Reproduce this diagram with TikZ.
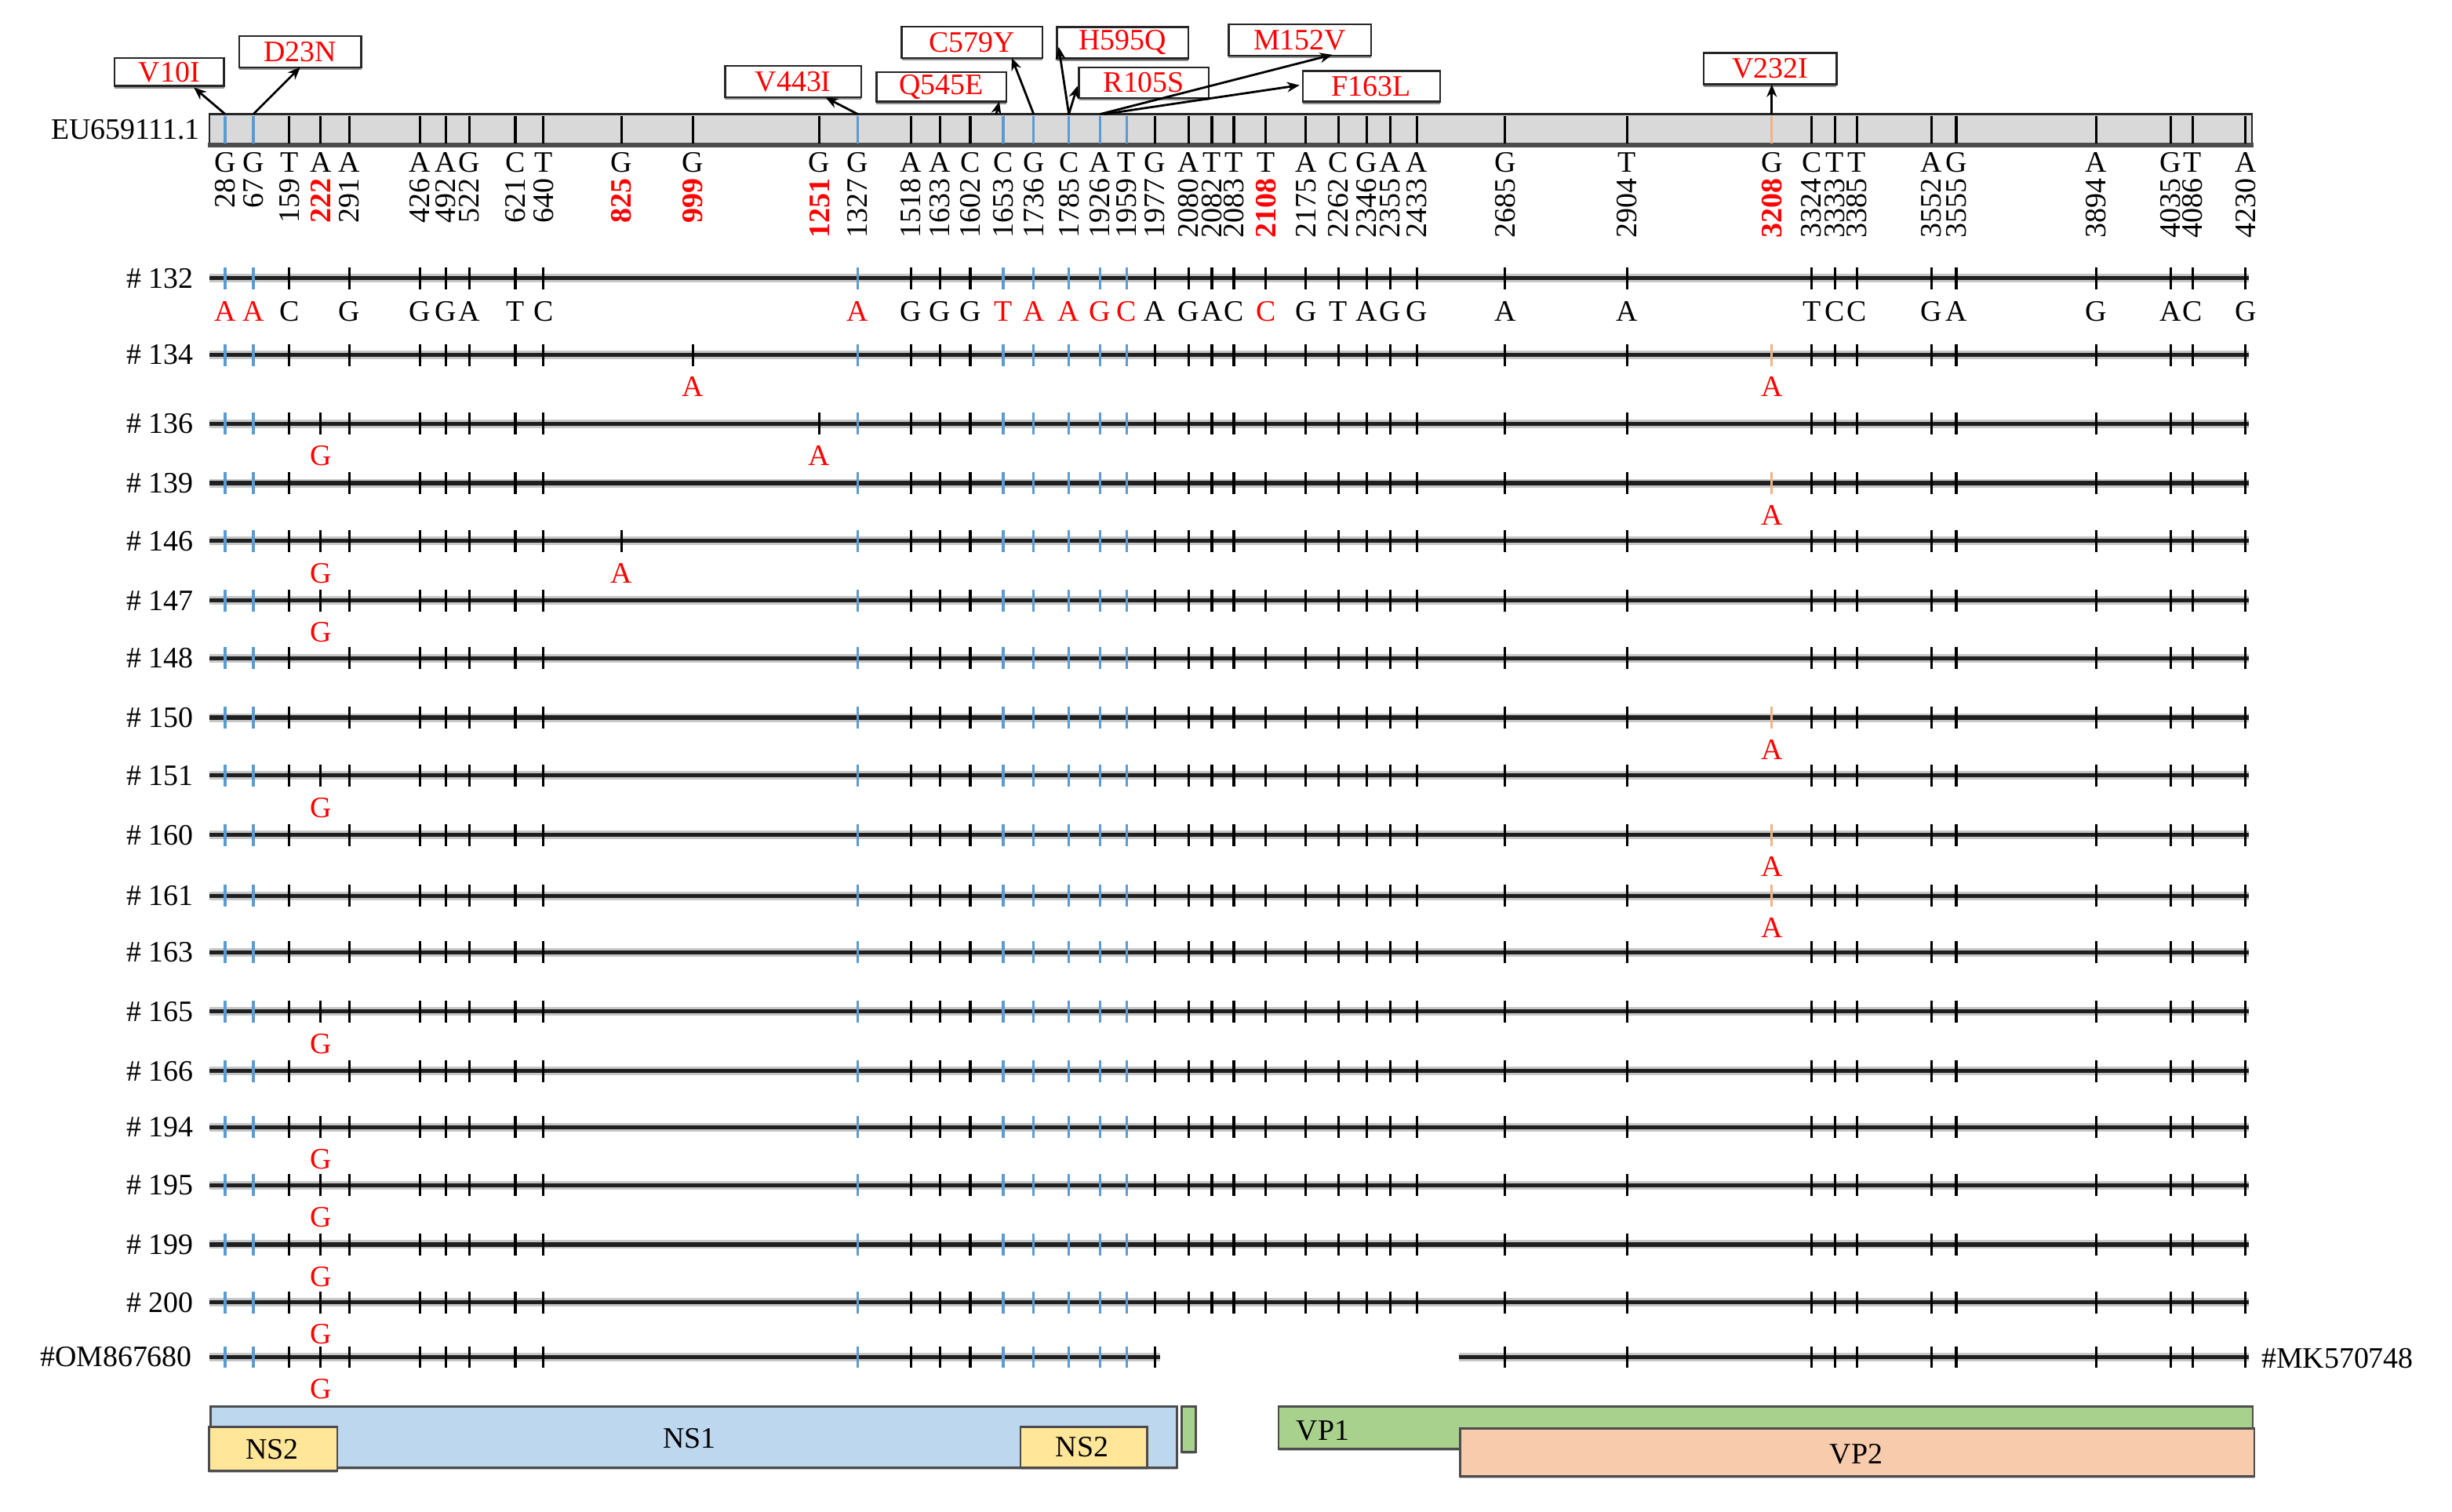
\documentclass[tikz,border=0pt]{standalone}
\usepackage{fontspec}
\setmainfont{Liberation Serif}
\usetikzlibrary{arrows.meta,shadows}
\definecolor{tblue}{HTML}{5B9BD5}
\definecolor{torange}{HTML}{F4B183}
\definecolor{mred}{HTML}{FF0000}
\definecolor{barfill}{HTML}{D9D9D9}
\definecolor{ns1c}{HTML}{BDD7EE}
\definecolor{ns2c}{HTML}{FFE699}
\definecolor{vp1c}{HTML}{A9D18E}
\definecolor{vp2c}{HTML}{F8CBAD}
\newcommand\setpos[2]{\expandafter\def\csname pp#1\endcsname{#2}}
\newcommand\xp[1]{\csname pp#1\endcsname}
\setpos{28}{144}\setpos{67}{162}\setpos{159}{185}\setpos{222}{205}\setpos{291}{223.5}
\setpos{426}{268.5}\setpos{492}{285}\setpos{522}{300}\setpos{621}{329.5}\setpos{640}{347.5}
\setpos{825}{397.5}\setpos{999}{443}\setpos{1251}{524}\setpos{1327}{548.5}\setpos{1518}{582.5}
\setpos{1633}{601}\setpos{1602}{620.5}\setpos{1653}{641.5}\setpos{1736}{661}\setpos{1785}{683.5}
\setpos{1926}{703.5}\setpos{1959}{720.5}\setpos{1977}{738.5}\setpos{2080}{760}\setpos{2082}{775}
\setpos{2083}{789}\setpos{2108}{809.5}\setpos{2175}{835}\setpos{2262}{856}\setpos{2346}{874}
\setpos{2355}{889}\setpos{2433}{906}\setpos{2685}{962.5}\setpos{2904}{1040.5}\setpos{3208}{1133}
\setpos{3324}{1158.5}\setpos{3333}{1173.5}\setpos{3385}{1187.5}\setpos{3552}{1235}\setpos{3555}{1251}
\setpos{3894}{1340.5}\setpos{4035}{1388}\setpos{4086}{1402}\setpos{4230}{1436}
\def\blueset{28,67,1327,1653,1736,1785,1926,1959}
\def\blackset{159,291,426,492,522,621,640,1518,1633,1602,1977,2080,2082,2083,2108,2175,2262,2346,2355,2433,2685,2904,3324,3333,3385,3552,3555,3894,4035,4086,4230}
\def\blacksetb{159,291,426,492,522,621,640,1518,1633,1602,1977,2080,2082,2083,2175,2262,2346,2355,2433,2685,2904,3324,3333,3385,3552,3555,3894,4035,4086,4230}
% y, node name, label, black tick list
\newcommand\seqrow[4]{%
  \node[rowlab] (#2) at (124,#1) {#3};
  \draw[rowhalo] (134,#1) -- (1438,#1);
  \draw[rowcore] (134,#1) -- (1438,#1);
  \foreach \s in #4 {\draw[tick] (\xp{\s},#1-7) -- (\xp{\s},#1+7);}
  \foreach \s in \blueset {\draw[btick] (\xp{\s},#1-7) -- (\xp{\s},#1+7);}
}
% y, site, letter, tick style
\newcommand\mut[4]{%
  \draw[#4] (\xp{#2},#1-7) -- (\xp{#2},#1+7);
  \node[redlet] (m#2x#1) at (\xp{#2},#1+20.5) {#3};
}
\begin{document}
\begin{tikzpicture}[x=1pt,y=-1pt,
  every node/.style={inner sep=0pt, font=\fontsize{19}{22}\selectfont},
  tick/.style={line width=1.6pt, black},
  btick/.style={line width=1.6pt, tblue},
  otick/.style={line width=1.6pt, torange},
  rowhalo/.style={line width=5.5pt, black!22},
  rowcore/.style={line width=2.6pt, black!88},
  mbox/.style={draw=black!85, line width=1.2pt, fill=white, text=mred,
    drop shadow={shadow xshift=0pt, shadow yshift=-1.6pt, fill=black!55, opacity=0.8}},
  arr/.style={-{Stealth[length=8pt,width=6.5pt]}, line width=1.4pt, black},
  gene/.style={draw=black!70, line width=1.3pt, anchor=north west,
    drop shadow={shadow xshift=0pt, shadow yshift=-1.5pt, fill=black!45, opacity=0.6}},
  redlet/.style={text=mred},
  rowlab/.style={anchor=east},
  hnum/.style={rotate=90, anchor=east},
]
\useasboundingbox (0,0) rectangle (1568,967);
\fill[white] (0,0) rectangle (1568,967);

% ---------- reference bar ----------
\node[anchor=east] (eu) at (128,83) {EU659111.1};
\fill[barfill] (134,73) rectangle (1440,93);
\draw[line width=1.3pt, black!85] (134,93) -- (134,73) -- (1440,73) -- (1440,93);
\draw[line width=3pt, black!70] (133,93) -- (1441,93);
\foreach \s in \blackset {\draw[tick] (\xp{\s},74) -- (\xp{\s},92);}
\foreach \s in {222,825,999,1251} {\draw[tick] (\xp{\s},74) -- (\xp{\s},92);}
\foreach \s in \blueset {\draw[btick] (\xp{\s},74) -- (\xp{\s},92);}
\draw[otick] (\xp{3208},74) -- (\xp{3208},92);
\foreach \s in {28,67,1327,1653,1736,1785,1926,1959,3208} {\coordinate (t\s) at (\xp{\s},73);}
\coordinate (t1926b) at (706,73);

\foreach \s/\l in {28/G,67/G,159/T,222/A,291/A,426/A,492/A,522/G,621/C,640/T,825/G,999/G,1251/G,1327/G,1518/A,1633/A,1602/C,1653/C,1736/G,1785/C,1926/A,1959/T,1977/G,2080/A,2082/T,2083/T,2108/T,2175/A,2262/C,2346/G,2355/A,2433/A,2685/G,2904/T,3208/G,3324/C,3333/T,3385/T,3552/A,3555/G,3894/A,4035/G,4086/T,4230/A}
  {\node (hl\s) at (\xp{\s},104) {\l};}
\foreach \s in {28,67,159,291,426,492,522,621,640,1327,1518,1633,1602,1653,1736,1785,1926,1959,1977,2080,2082,2083,2175,2262,2346,2355,2433,2685,2904,3324,3333,3385,3552,3555,3894,4035,4086,4230}
  {\node[hnum] (hn\s) at (\xp{\s},114) {\s};}
\foreach \s in {222,825,999,1251,2108,3208}
  {\node[hnum, text=mred, font=\fontsize{19}{22}\selectfont\bfseries] (hn\s) at (\xp{\s},114) {\s};}

% ---------- mutation boxes ----------
\node[mbox, minimum width=70, minimum height=18] (v10i) at (108.3,46) {V10I};
\node[mbox, minimum width=78, minimum height=20] (d23n) at (192,33) {D23N};
\node[mbox, minimum width=87, minimum height=20] (v443i) at (507.2,52.2) {V443I};
\node[mbox, minimum width=83, minimum height=19] (q545e) at (602,55.5) {Q545E};
\node[mbox, minimum width=90, minimum height=20] (c579y) at (621.6,27) {C579Y};
\node[mbox, minimum width=84, minimum height=20] (h595q) at (717.8,27.3) {H595Q};
\node[mbox, minimum width=83, minimum height=19.5] (r105s) at (731.5,52.9) {R105S};
\node[mbox, minimum width=91, minimum height=20] (m152v) at (831.2,25.6) {M152V};
\node[mbox, minimum width=88, minimum height=19.5] (f163l) at (877,55.2) {F163L};
\node[mbox, minimum width=85, minimum height=20] (v232i) at (1131.9,43.9) {V232I};

\coordinate (a1) at (124,56);
\coordinate (a2) at (192,43);
\coordinate (a3) at (528,62.4);
\coordinate (a4) at (639,65);
\coordinate (a5) at (647,37);
\coordinate (a6) at (677,30);
\coordinate (a7) at (689,55);
\coordinate (a8) at (852,35);
\coordinate (a9) at (831,54.5);
\coordinate (a10) at (1133,54);
\coordinate (t1653b) at (637,73);
\draw[arr] (t28) -- (a1);
\draw[arr] (t67) -- (a2);
\draw[arr] (t1327) -- (a3);
\draw[arr] (t1653b) -- (a4);
\draw[arr] (t1736) -- (a5);
\draw[arr] (t1785) -- (a6);
\draw[arr] (t1785) -- (a7);
\draw[arr] (t1926) -- (a8);
\draw[arr] (t1926b) -- (a9);
\draw[arr] (t3208) -- (a10);

% ---------- sample rows ----------
\seqrow{178}{r132}{\# 132}{\blackset}
\foreach \s/\l in {159/C,291/G,426/G,492/G,522/A,621/T,640/C,1518/G,1633/G,1602/G,1977/A,2080/G,2082/A,2083/C,2175/G,2262/T,2346/A,2355/G,2433/G,2685/A,2904/A,3324/T,3333/C,3385/C,3552/G,3555/A,3894/G,4035/A,4086/C,4230/G}
  {\node (rl\s) at (\xp{\s},199) {\l};}
\foreach \s/\l in {28/A,67/A,1327/A,1653/T,1736/A,1785/A,1926/G,1959/C,2108/C}
  {\node[redlet] (rl\s) at (\xp{\s},199) {\l};}

\seqrow{227}{r134}{\# 134}{\blackset}
\mut{227}{999}{A}{tick}\mut{227}{3208}{A}{otick}
\seqrow{271}{r136}{\# 136}{\blackset}
\mut{271}{222}{G}{tick}\mut{271}{1251}{A}{tick}
\seqrow{309}{r139}{\# 139}{\blackset}
\mut{309}{3208}{A}{otick}
\seqrow{346}{r146}{\# 146}{\blacksetb}
\mut{346}{222}{G}{tick}\mut{346}{825}{A}{tick}
\seqrow{384}{r147}{\# 147}{\blackset}
\mut{384}{222}{G}{tick}
\seqrow{421}{r148}{\# 148}{\blackset}
\seqrow{459}{r150}{\# 150}{\blackset}
\mut{459}{3208}{A}{otick}
\seqrow{496}{r151}{\# 151}{\blackset}
\mut{496}{222}{G}{tick}
\seqrow{534}{r160}{\# 160}{\blackset}
\mut{534}{3208}{A}{otick}
\seqrow{573}{r161}{\# 161}{\blackset}
\mut{573}{3208}{A}{otick}
\seqrow{609}{r163}{\# 163}{\blackset}
\seqrow{647}{r165}{\# 165}{\blackset}
\mut{647}{222}{G}{tick}
\seqrow{685}{r166}{\# 166}{\blackset}
\seqrow{721}{r194}{\# 194}{\blackset}
\mut{721}{222}{G}{tick}
\seqrow{758}{r195}{\# 195}{\blackset}
\mut{758}{222}{G}{tick}
\seqrow{796}{r199}{\# 199}{\blackset}
\mut{796}{222}{G}{tick}
\seqrow{833}{r200}{\# 200}{\blackset}
\mut{833}{222}{G}{tick}

% OM867680 / MK570748
\node[rowlab] (rom) at (123,868) {\#OM867680};
\draw[rowhalo] (134,868) -- (742,868);
\draw[rowcore] (134,868) -- (742,868);
\foreach \s in {159,291,426,492,522,621,640,1518,1633,1602,1977} {\draw[tick] (\xp{\s},861) -- (\xp{\s},875);}
\foreach \s in \blueset {\draw[btick] (\xp{\s},861) -- (\xp{\s},875);}
\mut{868}{222}{G}{tick}
\draw[rowhalo] (933,868) -- (1438,868);
\draw[rowcore] (933,868) -- (1438,868);
\foreach \s in {2685,2904,3324,3333,3385,3552,3555,3894,4035,4086,4230} {\draw[tick] (\xp{\s},861) -- (\xp{\s},875);}
\node[anchor=west] (rmk) at (1446,869) {\#MK570748};

% ---------- genome map ----------
\node[gene, fill=ns1c, minimum width=618, minimum height=39] (ns1) at (134,899) {};
\node (ns1l) at (441,920) {NS1};
\node[gene, fill=ns2c, minimum width=82, minimum height=28] (ns2a) at (133,912) {};
\node (ns2al) at (174,927) {NS2};
\node[gene, fill=ns2c, minimum width=81, minimum height=26] (ns2b) at (652,912) {};
\node (ns2bl) at (692,925.5) {NS2};
\node[gene, fill=vp1c, minimum width=9, minimum height=29] (sg) at (755,899) {};
\node[gene, fill=vp1c, minimum width=623, minimum height=27] (vp1) at (817,899) {};
\node (vp1l) at (846,915) {VP1};
\node[gene, fill=vp2c, minimum width=508, minimum height=30.5] (vp2) at (933,913) {};
\node (vp2l) at (1187,930) {VP2};
\end{tikzpicture}
\end{document}
